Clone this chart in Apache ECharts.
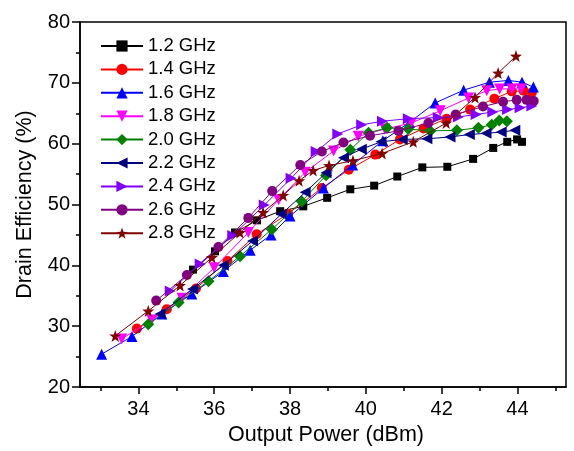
<!DOCTYPE html>
<html><head><meta charset="utf-8">
<script src="https://cdn.jsdelivr.net/npm/echarts@6/dist/echarts.min.js"></script>
<style>html,body{margin:0;padding:0;background:#fff}#c{width:574px;height:451px}</style>
</head><body><div id="c"></div>
<script>
const names = ['1.2 GHz','1.4 GHz','1.6 GHz','1.8 GHz','2.0 GHz','2.2 GHz','2.4 GHz','2.6 GHz','2.8 GHz'];
const xMajorTicks = [34,36,38,40,42,44];
const xMinorTicks = [33,35,37,39,41,43,45];

const x12 = [35.44,36.02,36.55,37.13,37.74,38.35,38.98,39.59,40.22,40.83,41.49,42.15,42.83,43.36,43.73,43.99,44.12];
const y12 = [39.3,42.3,45.4,47.4,48.9,49.7,51.1,52.5,53.1,54.6,56.1,56.2,57.5,59.3,60.3,60.7,60.3];
const x14 = [33.96,34.75,35.52,36.35,37.12,37.95,38.84,39.55,40.25,40.90,41.52,42.13,42.75,43.39,43.85,44.16,44.38];
const y14 = [29.6,32.8,36.2,40.7,45.1,48.5,52.7,55.7,58.2,60.7,62.5,64.1,65.6,67.4,68.6,68.7,68.4];
const x16 = [33.03,33.83,34.62,35.41,36.24,36.95,37.5,38.0,38.88,39.65,40.45,41.15,41.83,42.58,43.26,43.76,44.12,44.42];
const y16 = [25.4,28.3,32.0,35.3,39.0,42.5,45.0,48.1,52.7,56.5,60.5,63.5,66.7,68.8,70.1,70.4,70.1,69.3];
const x18 = [33.56,34.35,35.15,36.0,36.9,37.7,38.4,39.15,39.8,40.5,41.2,41.96,42.71,43.19,43.53,43.85,44.1];
const y18 = [27.9,31.0,34.6,39.6,45.4,50.8,55.3,58.8,61.2,62.4,63.4,65.4,67.5,68.7,69.0,69.0,69.0];
const x20 = [34.26,35.06,35.85,36.68,37.52,38.31,38.95,39.59,40.07,40.56,41.12,41.70,42.40,42.97,43.32,43.52,43.72];
const y20 = [30.3,33.9,37.4,41.5,45.9,50.5,54.8,59.0,61.8,62.6,62.4,62.1,62.2,62.6,63.1,63.8,63.7];
const x22 = [34.57,35.43,36.24,37.01,37.77,38.40,38.95,39.41,39.88,40.40,40.96,41.61,42.22,42.73,43.17,43.57,43.93];
const y22 = [32.0,36.1,40.0,44.0,48.4,52.0,55.2,57.7,59.1,60.3,60.7,60.8,61.1,61.5,61.7,61.9,62.2];
const x24 = [34.84,35.63,36.49,37.32,38.03,38.69,39.26,39.89,40.44,41.12,41.91,42.44,42.91,43.35,43.74,44.07,44.38];
const y24 = [35.8,40.2,44.9,49.9,54.3,58.7,61.6,63.1,63.7,64.1,64.3,64.4,64.8,65.2,65.6,65.9,66.2];
const x26 = [34.47,35.28,36.11,36.90,37.53,38.27,38.84,39.41,40.11,40.86,41.65,42.37,43.09,43.62,43.98,44.24,44.43];
const y26 = [34.2,38.4,43.0,47.8,52.2,56.5,58.7,60.2,61.3,62.1,63.4,64.8,66.1,66.9,67.2,67.2,67.0];
const x28 = [33.39,34.26,35.10,35.94,36.68,37.29,37.82,38.24,38.61,39.03,39.66,40.43,41.25,42.12,42.88,43.49,43.96];
const y28 = [28.4,32.5,36.7,41.3,45.4,48.7,51.5,53.9,55.6,56.4,57.2,58.4,60.3,63.4,67.6,71.6,74.4];

const xs = [x12,x14,x16,x18,x20,x22,x24,x26,x28];
const ys = [y12,y14,y16,y18,y20,y22,y24,y26,y28];
const colors = ['#000000','#FF0000','#0000FF','#FF00FF','#008000','#000080','#8000FF','#800080','#800000'];
const STAR = 'path://M0,-10L2.35,-3.24L9.51,-3.09L3.8,1.24L5.88,8.09L0,4L-5.88,8.09L-3.8,1.24L-9.51,-3.09L-2.35,-3.24Z';
const symbols = ['rect','circle','triangle','triangle','diamond','triangle','triangle','circle',STAR];
const rotates = [0,0,0,180,0,90,-90,0,0];
const sizes = [8,10,11,11,12,11,11,10,12];

const chart = echarts.init(document.getElementById('c'), null, {renderer:'canvas'});
const FONT = 'Liberation Sans';
const series = names.map((n,i)=>({
  name:n, type:'line', xAxisIndex:0, yAxisIndex:0,
  data: xs[i].map((x,j)=>[x, ys[i][j]]),
  symbol: symbols[i], symbolSize: sizes[i], symbolRotate: rotates[i],
  showAllSymbol: true,
  lineStyle:{color:colors[i], width:1},
  itemStyle:{color:colors[i], borderWidth:0},
  z: 2+i
}));

chart.setOption({
  animation:false,
  backgroundColor:'#fff',
  grid:{left:80, right:8, top:22, bottom:63, show:true, borderColor:'#000', borderWidth:1.5, backgroundColor:'transparent'},
  legend:{
    orient:'vertical', left:100, top:36.5, padding:0,
    itemWidth:42, itemHeight:14, itemGap:4.4,
    textStyle:{fontFamily:FONT, fontSize:18.5, color:'#000', padding:[0,0,0,0]},
    data: names
  },
  xAxis:[{
    type:'value', min:32.46, max:45.28,
    name:'Output Power (dBm)', nameLocation:'middle', nameGap:37,
    nameTextStyle:{fontFamily:FONT, fontSize:21.5, color:'#000', padding:[0,0,0,6]},
    axisLine:{show:true, lineStyle:{color:'#000', width:1.5}},
    axisTick:{show:true, inside:false, length:7, lineStyle:{color:'#000', width:1.5}, customValues:xMajorTicks},
    axisLabel:{fontFamily:FONT, fontSize:20, color:'#000', margin:12, customValues:xMajorTicks},
    splitLine:{show:false}
  },{
    type:'value', min:32.46, max:45.28, position:'bottom',
    axisLine:{show:false},
    axisTick:{show:true, inside:false, length:4, lineStyle:{color:'#000', width:1.5}, customValues:xMinorTicks},
    axisLabel:{show:false},
    splitLine:{show:false}
  }],
  yAxis:{
    type:'value', min:20, max:80, interval:10,
    name:'Drain Efficiency (%)', nameLocation:'middle', nameGap:44,
    nameTextStyle:{fontFamily:FONT, fontSize:21.5, color:'#000'},
    axisLine:{show:true, lineStyle:{color:'#000', width:1.5}},
    axisTick:{show:true, inside:false, length:8, lineStyle:{color:'#000', width:1.5}},
    minorTick:{show:true, splitNumber:2, length:4, lineStyle:{color:'#000', width:1.5}},
    axisLabel:{fontFamily:FONT, fontSize:20, color:'#000', margin:10},
    splitLine:{show:false}
  },
  series: series
});
</script>
</body></html>
